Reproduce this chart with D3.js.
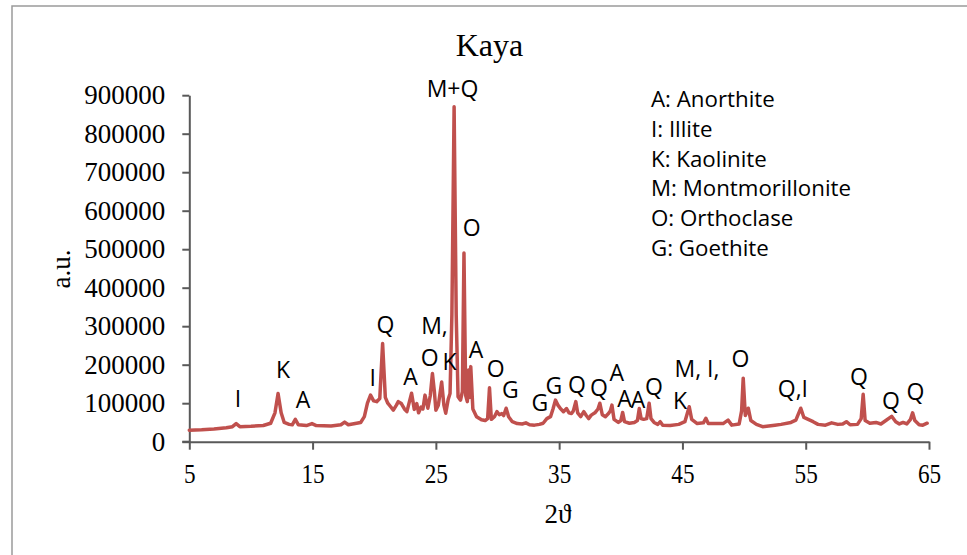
<!DOCTYPE html>
<html>
<head>
<meta charset="utf-8">
<script src="https://cdn.jsdelivr.net/npm/d3@7/dist/d3.min.js"></script>
<style>
  html, body { margin: 0; padding: 0; background: #fff; }
  svg { display: block; }
</style>
</head>
<body>
<svg id="chart" width="967" height="555"></svg>
<script>
// XRD pattern of the Kaya sample: diffraction angle 2θ (degrees) and intensity (a.u.)
const twoTheta = [
  5.0, 6.0, 7.0, 8.0, 8.5, 8.8, 9.1, 10.0, 11.0, 11.6, 11.95, 12.2, 12.45, 12.7, 13.1, 13.35, 13.6, 13.85,
  14.5, 14.95, 15.3, 16.5, 17.3, 17.6, 17.9, 18.9, 19.2, 19.45, 19.7, 19.95, 20.2, 20.45, 20.68, 20.9,
  21.1, 21.3, 21.55, 21.8, 21.95, 22.2, 22.45, 22.65, 23.03, 23.25, 23.45, 23.6, 23.8, 23.95, 24.12, 24.35,
  24.55, 24.72, 24.88, 25.0, 25.2, 25.47, 25.65, 25.8, 26.0, 26.15, 26.3, 26.48, 26.65, 26.8, 27.0, 27.15,
  27.28, 27.42, 27.55, 27.65, 27.73, 27.83, 28.0, 28.3, 28.7, 29.0, 29.2, 29.35, 29.5, 29.75, 29.95, 30.15,
  30.35, 30.5, 30.7, 30.9, 31.2, 31.6, 32.0, 32.3, 32.6, 33.0, 33.4, 33.7, 34.0, 34.3, 34.5, 34.7, 34.9,
  35.1, 35.35, 35.6, 35.8, 36.0, 36.15, 36.35, 36.5, 36.75, 37.0, 37.2, 37.4, 37.6, 37.9, 38.15, 38.3,
  38.5, 38.75, 39.0, 39.15, 39.28, 39.45, 39.8, 40.0, 40.15, 40.3, 40.7, 41.1, 41.35, 41.5, 41.65, 41.85,
  42.1, 42.3, 42.45, 42.7, 43.0, 43.2, 43.4, 44.0, 44.7, 45.2, 45.55, 45.75, 46.2, 46.7, 46.9, 47.1, 47.8,
  48.3, 48.7, 49.0, 49.6, 49.8, 49.93, 50.1, 50.34, 50.55, 51.0, 51.5, 52.0, 52.5, 53.0, 53.8, 54.2, 54.6,
  54.85, 55.2, 55.6, 56.0, 56.6, 57.1, 57.6, 58.0, 58.3, 58.6, 59.2, 59.5, 59.66, 59.82, 60.2, 60.7, 61.1,
  61.5, 61.97, 62.3, 62.6, 62.9, 63.2, 63.5, 63.67, 63.85, 64.2, 64.5, 64.85
];
const intensity = [
  30000, 31000, 33000, 36000, 39000, 47000, 39000, 40000, 42000, 48000, 75000, 125000, 75000, 50000, 45000, 44000, 58000, 44000,
  42000, 47000, 42000, 41000, 44000, 51000, 44000, 50000, 65000, 100000, 121000, 106000, 104000, 112000, 255000, 115000,
  100000, 92000, 82000, 95000, 104000, 99000, 85000, 78000, 126000, 84000, 99000, 75000, 90000, 85000, 121000, 87000,
  120000, 177000, 130000, 82000, 95000, 155000, 95000, 74000, 110000, 125000, 330000, 870000, 330000, 117000, 108000, 130000,
  490000, 120000, 104000, 186000, 115000, 195000, 85000, 65000, 57000, 55000, 60000, 140000, 58000, 65000, 78000, 70000,
  73000, 68000, 87000, 65000, 52000, 47000, 46000, 49000, 44000, 43000, 45000, 48000, 60000, 65000, 85000, 108000, 95000,
  86000, 78000, 86000, 75000, 73000, 80000, 104000, 75000, 65000, 78000, 68000, 60000, 69000, 75000, 85000, 100000,
  70000, 65000, 73000, 80000, 95000, 58000, 50000, 55000, 76000, 52000, 48000, 50000, 55000, 86000, 60000, 58000,
  60000, 100000, 60000, 50000, 45000, 52000, 43000, 42000, 45000, 52000, 91000, 58000, 47000, 49000, 61000, 47000, 47000,
  47000, 56000, 43000, 46000, 80000, 165000, 68000, 87000, 55000, 45000, 39000, 41000, 43000, 45000, 50000, 56000, 87000,
  63000, 58000, 52000, 45000, 43000, 49000, 45000, 46000, 52000, 44000, 45000, 60000, 123000, 55000, 48000, 50000, 46000,
  55000, 66000, 52000, 46000, 50000, 46000, 58000, 75000, 55000, 44000, 43000, 48000
];

// Phase annotations: letter, 2θ and the intensity level the letter sits at
const peakText = ["I", "K", "A", "I", "Q", "A", "M,", "O", "K", "M+Q", "O", "A", "O", "G", "G", "G", "Q", "Q",
  "A", "A", "A", "Q", "M, I,", "K", "O", "Q,I", "Q", "Q", "Q"];
const peakTheta = [8.95, 12.6, 14.22, 19.87, 20.92, 22.95, 24.89, 24.49, 26.1, 26.35, 27.9, 28.25, 29.85, 31.05,
  33.44, 34.58, 36.44, 38.22, 39.68, 40.3, 41.39, 42.69, 46.18, 44.8, 49.7, 53.96, 59.31, 61.91, 63.9];
const peakLevel = [110900, 186200, 108300, 165500, 303100, 168000, 300500, 217400, 207000, 916100, 555000, 238200,
  190100, 134300, 100500, 144700, 147300, 139500, 178000, 112000, 110000, 142100, 188800, 105700, 214800, 136900,
  168100, 105700, 129100];

// Phase key
const legendItems = ["A: Anorthite", "I: Illite", "K: Kaolinite", "M: Montmorillonite", "O: Orthoclase", "G: Goethite"];

const xTicks = [5, 15, 25, 35, 45, 55, 65];
const yTicks = [0, 100000, 200000, 300000, 400000, 500000, 600000, 700000, 800000, 900000];

const svg = d3.select("#chart");
const serif = "'Liberation Serif', 'Times New Roman', serif";
const sans = "'Open Sans', 'Noto Sans', sans-serif";

// outer frame
svg.append("path")
  .attr("d", "M12,555 L12,6 L967,6")
  .attr("fill", "none")
  .attr("stroke", "#9a9a9a")
  .attr("stroke-width", 1.5);

const x = d3.scaleLinear().domain([5, 65]).range([189.3, 929]);
const y = d3.scaleLinear().domain([0, 900000]).range([441.7, 95.2]);

// axes
const axisColor = "#595959";
const gx = svg.append("g")
  .attr("transform", `translate(0,${y(0)})`)
  .call(d3.axisBottom(x).tickValues(xTicks).tickSize(8).tickSizeOuter(0).tickPadding(14).tickFormat(d3.format("d")));
const gy = svg.append("g")
  .attr("transform", `translate(${x(5)},0)`)
  .call(d3.axisLeft(y).tickValues(yTicks).tickSize(7).tickSizeOuter(0).tickPadding(17).tickFormat(d3.format("d")));

[gx, gy].forEach(g => {
  g.select(".domain").attr("stroke", axisColor).attr("stroke-width", 2);
  g.selectAll(".tick line").attr("stroke", axisColor).attr("stroke-width", 2);
  g.selectAll(".tick text")
    .attr("fill", "#000")
    .style("font-family", serif)
    .style("font-size", "27px");
});
// the 2θ tick numbers are set slightly condensed
gx.selectAll(".tick text").attr("transform", "scale(0.86,1)");

// extend the horizontal axis a little to the left, across the y tick at 0
svg.append("line")
  .attr("x1", x(5) - 7).attr("x2", x(5))
  .attr("y1", y(0)).attr("y2", y(0))
  .attr("stroke", axisColor).attr("stroke-width", 2);

// diffraction trace
const pts = twoTheta.map((t, i) => [t, intensity[i]]);
svg.append("path")
  .datum(pts)
  .attr("fill", "none")
  .attr("stroke", "#C0504D")
  .attr("stroke-width", 3.5)
  .attr("stroke-linejoin", "round")
  .attr("stroke-linecap", "round")
  .attr("d", d3.line().x(d => x(d[0])).y(d => y(d[1])));

// peak labels
svg.append("g")
  .selectAll("text")
  .data(peakText)
  .join("text")
  .attr("x", (d, i) => x(peakTheta[i]))
  .attr("y", (d, i) => y(peakLevel[i]))
  .attr("dy", "0.36em")
  .attr("text-anchor", "middle")
  .style("font-family", sans)
  .style("font-size", "23px")
  .attr("fill", "#000")
  .text(d => d);

// key
svg.append("g")
  .selectAll("text")
  .data(legendItems)
  .join("text")
  .attr("x", 651)
  .attr("y", (d, i) => 107 + i * 29.8)
  .style("font-family", sans)
  .style("font-size", "22.3px")
  .attr("fill", "#000")
  .text(d => d);

// title
svg.append("text")
  .attr("x", 489.5).attr("y", 56)
  .attr("text-anchor", "middle")
  .style("font-family", serif)
  .style("font-size", "32px")
  .text("Kaya");

// axis titles
svg.append("text")
  .attr("transform", "translate(70,269) rotate(-90)")
  .attr("text-anchor", "middle")
  .style("font-family", serif)
  .style("font-size", "27px")
  .text("a.u.");

svg.append("text")
  .attr("x", 558).attr("y", 523)
  .attr("text-anchor", "middle")
  .style("font-family", serif)
  .style("font-size", "27px")
  .text("2ϑ");
</script>
</body>
</html>
